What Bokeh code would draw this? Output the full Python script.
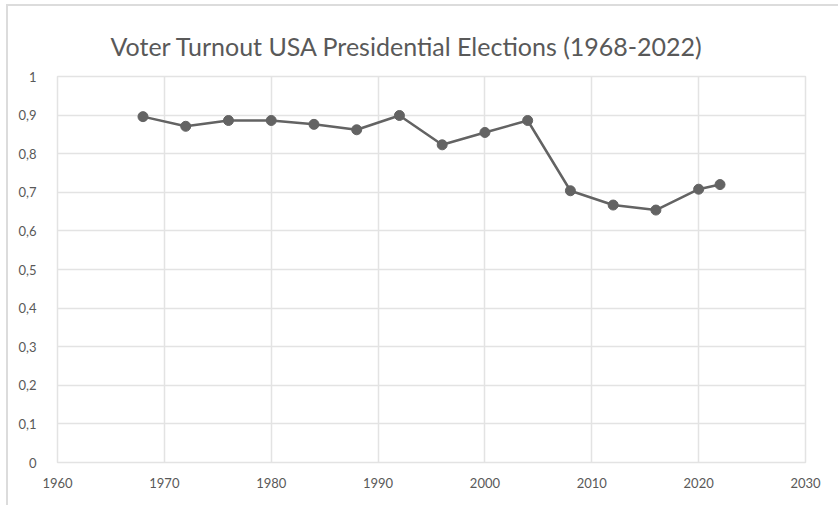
from bokeh.plotting import figure
from bokeh.models import FixedTicker, CustomJSTickFormatter, Range1d
from bokeh.embed import file_html
from bokeh.resources import INLINE

years = [1968, 1972, 1976, 1980, 1984, 1988, 1992, 1996, 2000, 2004, 2008, 2012, 2016, 2020, 2022]
turnout = [0.896, 0.871, 0.886, 0.886, 0.876, 0.862, 0.899, 0.823, 0.855, 0.886, 0.704, 0.667, 0.654, 0.708, 0.720]
x_ticks = [1960, 1970, 1980, 1990, 2000, 2010, 2020, 2030]
y_ticks = [0, 0.1, 0.2, 0.3, 0.4, 0.5, 0.6, 0.7, 0.8, 0.9, 1.0]
title_text = "Voter Turnout USA Presidential Elections (1968-2022)"

FONT = "Lato"
TXT = "#595959"
GRID = "#e3e3e3"
LINE = "#636363"

p = figure(width=832, height=501, output_backend="svg", toolbar_location=None,
           x_range=Range1d(1960, 2030), y_range=Range1d(0, 1),
           min_border_left=49, min_border_right=35, min_border_top=70, min_border_bottom=45,
           title=title_text)
p.margin = (4, 0, 0, 6)
p.styles = {"border-top": "2px solid #dcdcdc", "border-left": "2px solid #dcdcdc"}

p.title.text_font = FONT
p.title.text_font_size = "25px"
p.title.text_font_style = "normal"
p.title.text_color = TXT
p.title.align = "left"
p.title.offset = 53
p.title.standoff = 32

p.outline_line_color = GRID
p.outline_line_width = 1.5

p.xaxis.ticker = FixedTicker(ticks=x_ticks)
p.yaxis.ticker = FixedTicker(ticks=y_ticks)
p.yaxis.formatter = CustomJSTickFormatter(code="return (Math.round(tick*10)/10).toString().replace('.', ',');")

for ax in (p.xaxis[0], p.yaxis[0]):
    ax.axis_line_color = None
    ax.major_tick_line_color = None
    ax.minor_tick_line_color = None
    ax.major_label_text_font = FONT
    ax.major_label_text_font_size = "13px"
    ax.major_label_text_color = TXT
p.yaxis.major_label_standoff = 15
p.xaxis.major_label_standoff = 9

p.xgrid.grid_line_color = GRID
p.ygrid.grid_line_color = GRID
p.xgrid.grid_line_width = 1.5
p.ygrid.grid_line_width = 1.5

p.line(years, turnout, line_color=LINE, line_width=2.5)
p.scatter(years, turnout, size=10, fill_color=LINE, line_color=LINE)

open("out.html", "w").write(file_html(p, INLINE))
